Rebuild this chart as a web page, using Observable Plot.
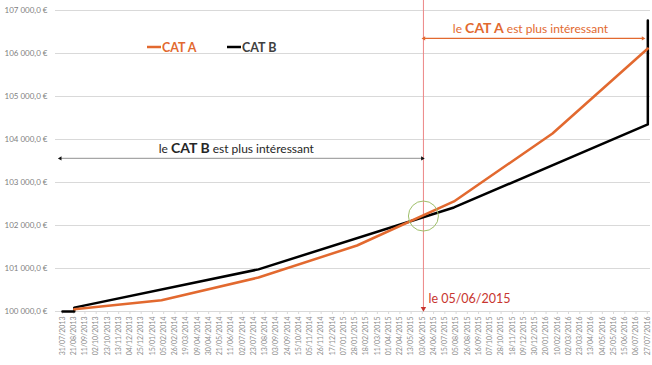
<!DOCTYPE html>
<html><head><meta charset="utf-8">
<script src="https://cdn.jsdelivr.net/npm/d3@7"></script>
<script src="https://cdn.jsdelivr.net/npm/@observablehq/plot@0.6"></script>
<style>body{margin:0;background:#fff;font-family:Lato,"Open Sans",sans-serif}</style>
</head><body><div id="chart"></div>
<script>
// ---- data ----
const tickLabels = ["31/07/2013","21/08/2013","11/09/2013","02/10/2013","23/10/2013","13/11/2013","04/12/2013","25/12/2013","15/01/2014","05/02/2014","26/02/2014","19/03/2014","09/04/2014","30/04/2014","21/05/2014","11/06/2014","02/07/2014","23/07/2014","13/08/2014","03/09/2014","24/09/2014","15/10/2014","05/11/2014","26/11/2014","17/12/2014","07/01/2015","28/01/2015","18/02/2015","11/03/2015","01/04/2015","22/04/2015","13/05/2015","03/06/2015","24/06/2015","15/07/2015","05/08/2015","26/08/2015","16/09/2015","07/10/2015","28/10/2015","18/11/2015","09/12/2015","30/12/2015","20/01/2016","10/02/2016","02/03/2016","23/03/2016","13/04/2016","04/05/2016","25/05/2016","15/06/2016","06/07/2016","27/07/2016"];
const yTicks = [100000,101000,102000,103000,104000,105000,106000,107000];

const catADates = ["22/08/2013","01/02/2014","01/08/2014","01/02/2015","01/08/2015","01/02/2016","28/07/2016"];
const catAValues = [100050,100260,100790,101535,102560,104140,106116];
const catBDates = ["31/07/2013","22/08/2013","22/08/2013","01/08/2014","01/08/2015","28/07/2016","28/07/2016"];
const catBValues = [100000,100000,100090,100980,102420,104350,106770];

const seriesNames = ["CAT A","CAT B"];
const switchDate = "05/06/2015";
const switchValue = 102220;
const switchLabel = "le 05/06/2015";
const spanB = {from: "27/07/2013", to: "03/06/2015", value: 103560, text: "le CAT B est plus intéressant"};
const spanA = {from: "06/06/2015", to: "19/07/2016", value: 106350, text: "le CAT A est plus intéressant"};
const xDomain = ["18/07/2013","02/08/2016"];

// ---- helpers ----
const parse = d3.utcParse("%d/%m/%Y");
const fmtDate = d3.utcFormat("%d/%m/%Y");
const loc = d3.formatLocale({decimal: ",", thousands: "\u202f", grouping: [3], currency: ["", " €"]});
const fmtY = v => loc.format(",.1f")(v) + " €";

const orange = "#e2692f";
const catA = catADates.map((d, i) => ({date: parse(d), value: catAValues[i]}));
const catB = catBDates.map((d, i) => ({date: parse(d), value: catBValues[i]}));
const ticks = tickLabels.map(parse);
const sw = parse(switchDate);

const chart = Plot.plot({
  width: 652, height: 365,
  marginLeft: 55, marginRight: 2, marginTop: 10, marginBottom: 54,
  style: {fontFamily: "Lato, 'Open Sans', sans-serif", background: "#fff"},
  x: {type: "utc", domain: xDomain.map(parse)},
  y: {domain: [100000, 107000]},
  marks: [
    Plot.gridY(yTicks, {stroke: "#d9d9d9", strokeOpacity: 1}),
    Plot.axisY({ticks: yTicks, tickFormat: fmtY, tickSize: 0, tickPadding: 8, fontSize: 8, fill: "#7f7f7f", label: null}),
    Plot.axisX({ticks: ticks, tickFormat: fmtDate, tickRotate: -90, fontSize: 7, fill: "#8c8c8c", stroke: "#d9d9d9", tickSize: 3, tickPadding: 2, label: null}),
    // red vertical marker
    Plot.ruleX([sw], {stroke: "#ec8585", strokeWidth: 1, insetTop: -10, insetBottom: 4}),
    Plot.dot([sw], {x: d => d, y: () => 100000, symbol: "triangle2", rotate: 180, r: 2.6, fill: "#c8352f", stroke: "none", dy: -3}),
    Plot.text([switchLabel], {x: () => sw, y: () => 100000, text: d => d, textAnchor: "start", dx: 5, dy: -13, fontSize: 12.5, fill: "#c8352f"}),
    // span arrows
    Plot.ruleY([spanB], {y: "value", x1: d => parse(d.from), x2: d => parse(d.to), stroke: "#a6a6a6", strokeWidth: 1.2}),
    Plot.dot([spanB], {x: d => parse(d.from), y: "value", symbol: "triangle2", rotate: -90, r: 2, fill: "#111"}),
    Plot.dot([spanB], {x: d => parse(d.to), y: "value", symbol: "triangle2", rotate: 90, r: 2, fill: "#111"}),
    Plot.text([spanB], {x: d => new Date((+parse(d.from) + +parse(d.to)) / 2), y: "value", text: "text", dy: -9, dx: -5, fontSize: 12, fill: "#262626"}),
    Plot.ruleY([spanA], {y: "value", x1: d => parse(d.from), x2: d => parse(d.to), stroke: orange, strokeWidth: 1.2}),
    Plot.dot([spanA], {x: d => parse(d.from), y: "value", symbol: "triangle2", rotate: -90, r: 2, fill: orange}),
    Plot.dot([spanA], {x: d => parse(d.to), y: "value", symbol: "triangle2", rotate: 90, r: 2, fill: orange}),
    Plot.text([spanA], {x: d => new Date((+parse(d.from) + +parse(d.to)) / 2), y: "value", text: "text", dy: -9, dx: -3, fontSize: 12, fill: orange}),
    // lines
    Plot.line(catB, {x: "date", y: "value", stroke: "#000", strokeWidth: 2.5}),
    Plot.line(catA, {x: "date", y: "value", stroke: orange, strokeWidth: 2.5}),
    // green circle
    Plot.dot([{date: sw, value: switchValue}], {x: "date", y: "value", r: 15, stroke: "#9fbf6a", strokeWidth: 1, fill: "none"})
  ]
});

// legend drawn into the svg
const svg = d3.select(chart);
const leg = svg.append("g").attr("font-family", "Lato, 'Open Sans', sans-serif").attr("font-size", 12.5).attr("font-weight", "bold").attr("text-anchor", "start");
const legendItems = [{name: seriesNames[0], color: orange, tcolor: orange, x: 147}, {name: seriesNames[1], color: "#000", tcolor: "#404040", x: 227}];
legendItems.forEach(it => {
  leg.append("line").attr("x1", it.x).attr("x2", it.x + 14).attr("y1", 47).attr("y2", 47).attr("stroke", it.color).attr("stroke-width", 2.5);
  leg.append("text").attr("x", it.x + 15).attr("y", 51.5).attr("fill", it.tcolor).text(it.name);
});

// bold the category names inside the span labels
svg.selectAll("text").each(function() {
  const t = this.textContent;
  const m = t.match(/^(le )(CAT [AB])( est plus intéressant)$/);
  if (!m) return;
  const el = d3.select(this);
  el.text(null);
  el.append("tspan").text(m[1]);
  el.append("tspan").attr("font-weight", "bold").attr("font-size", 14).text(m[2]);
  el.append("tspan").text(m[3]);
});

document.getElementById("chart").append(chart);
</script>
</body></html>
